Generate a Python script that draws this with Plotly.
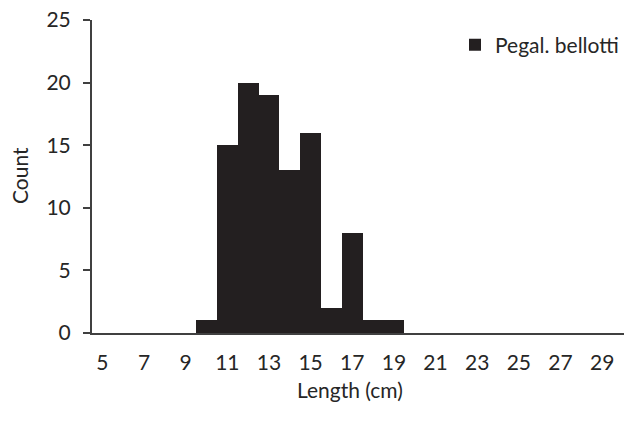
import plotly.graph_objects as go

# Length-frequency distribution (1 cm classes)
length_cm = list(range(5, 31))
count = [0, 0, 0, 0, 0, 1, 15, 20, 19, 13, 16, 2, 8, 1, 1,
         0, 0, 0, 0, 0, 0, 0, 0, 0, 0, 0]
series_name = "Pegal. bellotti"
x_tick_vals = list(range(5, 30, 2))
x_tick_text = [str(v) for v in x_tick_vals]
y_tick_vals = [0, 5, 10, 15, 20, 25]

FONT = "Lato"
SIZE = 21
TEXT = "#262626"
AXIS = "#404040"

# Plot area in pixels
W, H = 624, 434
plot_l, plot_r, plot_t, plot_b = 92, 0, 20, 101
plot_w = W - plot_l - plot_r
plot_h = H - plot_t - plot_b


def px_to_paper(px, py):
    return (px - plot_l) / plot_w, 1 - (py - plot_t) / plot_h


fig = go.Figure()
fig.add_trace(go.Bar(
    x=length_cm,
    y=count,
    name=series_name,
    marker=dict(color="#231f20", line=dict(width=0)),
    showlegend=True,
))

lx, ly = px_to_paper(W, 45)
cx, cy = px_to_paper(19, 176)
tx, ty = px_to_paper(350, 389)

fig.update_layout(
    width=W,
    height=H,
    margin=dict(l=plot_l, r=plot_r, t=plot_t, b=plot_b),
    paper_bgcolor="white",
    plot_bgcolor="white",
    bargap=0,
    font=dict(family=FONT, size=SIZE, color=TEXT),
    showlegend=True,
    legend=dict(
        x=lx, xanchor="right", y=ly, yanchor="middle",
        font=dict(family=FONT, size=SIZE, color=TEXT),
        bgcolor="rgba(0,0,0,0)",
        itemwidth=30,
    ),
    xaxis=dict(
        range=[4.5, 30.05],
        tickmode="array",
        tickvals=x_tick_vals,
        ticktext=x_tick_text,
        showline=True,
        linecolor=AXIS,
        linewidth=2,
        ticks="",
        showgrid=False,
        zeroline=False,
        ticklabelstandoff=10,
    ),
    yaxis=dict(
        range=[0, 25],
        tickmode="array",
        tickvals=y_tick_vals,
        showline=True,
        linecolor=AXIS,
        linewidth=2,
        ticks="outside",
        ticklen=7,
        tickwidth=2,
        tickcolor=AXIS,
        showgrid=False,
        zeroline=False,
        ticklabelstandoff=8,
    ),
    annotations=[
        dict(text="Count", x=cx, y=cy, xref="paper", yref="paper",
             xanchor="center", yanchor="middle",
             showarrow=False, textangle=-90),
        dict(text="Length (cm)", x=tx, y=ty, xref="paper", yref="paper",
             xanchor="center", yanchor="middle", showarrow=False),
    ],
)

fig.write_html("out.html")
